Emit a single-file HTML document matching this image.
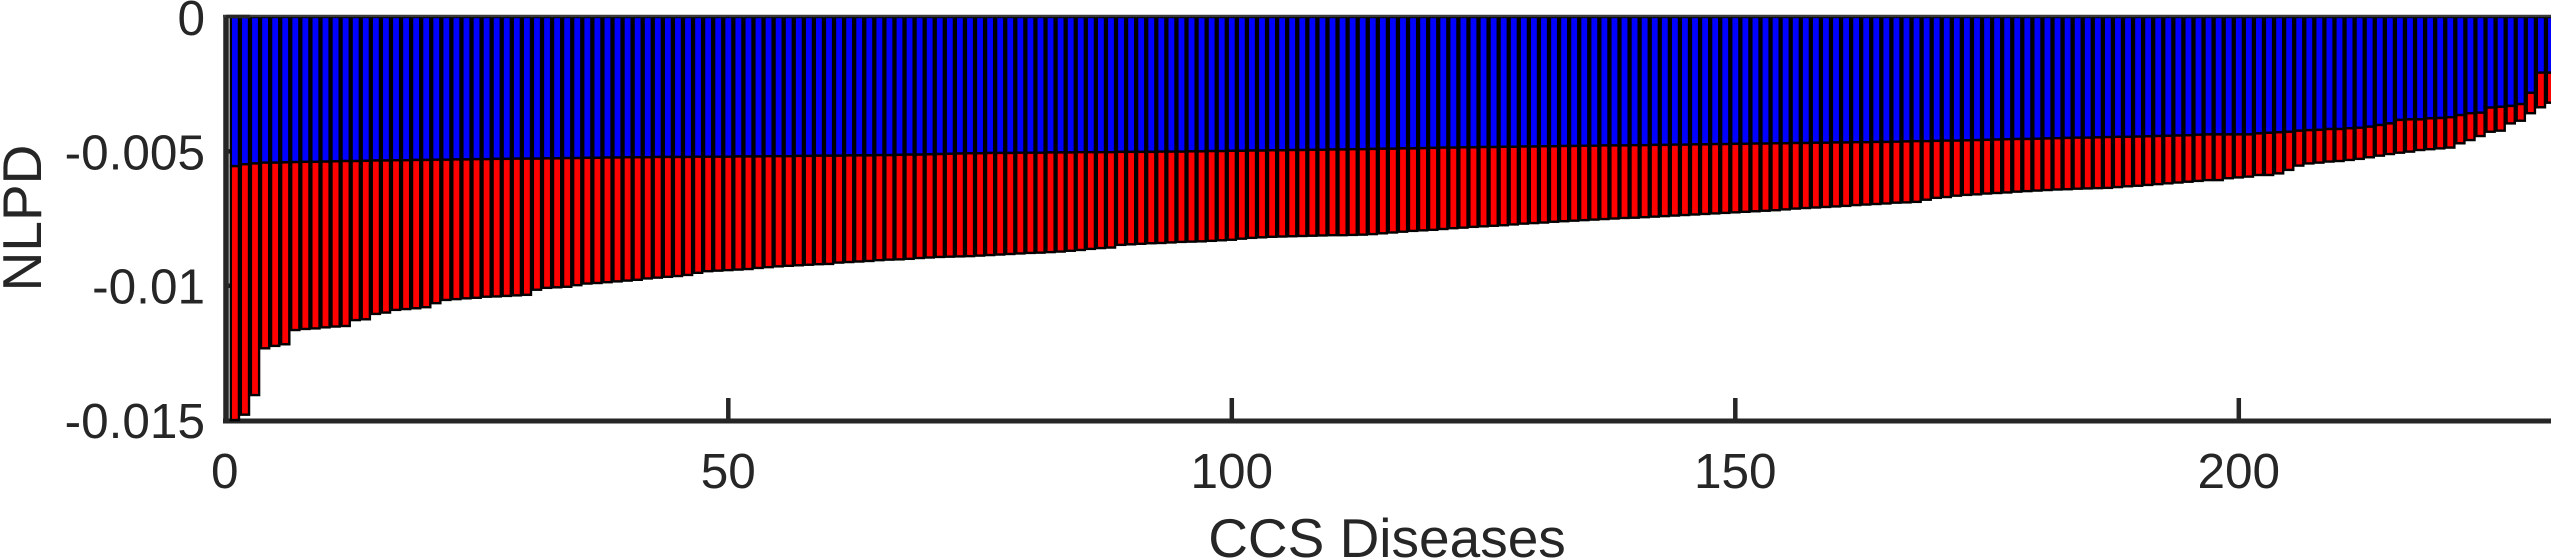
<!DOCTYPE html>
<html lang="en">
<head>
<meta charset="utf-8">
<title>NLPD by CCS Diseases</title>
<style>
html,body{margin:0;padding:0;background:#fff;width:2553px;height:559px;overflow:hidden}
svg{display:block}
text{font-family:"Liberation Sans",Arial,sans-serif;fill:#262626}
</style>
</head>
<body>
<svg id="chart" xmlns="http://www.w3.org/2000/svg" width="2553" height="559" viewBox="0 0 2553 559">
<defs><clipPath id="plot-clip"><rect x="220" y="14" width="2331" height="410"/></clipPath></defs>
<g id="axes-under"></g>
<g id="bars" clip-path="url(#plot-clip)"></g>
<g id="axes-over"></g>
<g id="labels"></g>
<text x="1387" y="557" font-size="55" text-anchor="middle">CCS Diseases</text>
<text transform="translate(41,218) rotate(-90)" font-size="55" text-anchor="middle">NLPD</text>
</svg>
<script>
// Depth of each stack boundary below zero, in units of 0.001
const blueValues = [
5.55,5.48,5.45,5.42,5.42,5.41,5.4,5.39,5.39,5.38,
5.37,5.36,5.36,5.35,5.34,5.34,5.33,5.33,5.32,5.32,
5.31,5.31,5.3,5.3,5.29,5.29,5.28,5.28,5.27,5.27,
5.27,5.26,5.26,5.25,5.25,5.24,5.24,5.23,5.23,5.22,
5.22,5.22,5.21,5.21,5.21,5.21,5.2,5.2,5.2,5.2,
5.19,5.19,5.19,5.18,5.18,5.18,5.17,5.17,5.16,5.16,
5.16,5.15,5.15,5.15,5.14,5.14,5.13,5.12,5.12,5.11,
5.1,5.09,5.08,5.07,5.07,5.06,5.06,5.06,5.05,5.05,
5.05,5.04,5.04,5.04,5.03,5.03,5.03,5.03,5.02,5.02,
5.02,5.02,5.01,5.01,5.01,5.0,5.0,4.99,4.99,4.98,
4.98,4.97,4.97,4.96,4.96,4.95,4.95,4.94,4.94,4.93,
4.93,4.92,4.92,4.91,4.9,4.9,4.89,4.89,4.88,4.87,
4.86,4.86,4.85,4.85,4.84,4.84,4.83,4.83,4.82,4.82,
4.81,4.81,4.8,4.8,4.79,4.79,4.78,4.78,4.78,4.77,
4.77,4.76,4.76,4.75,4.75,4.74,4.74,4.73,4.73,4.72,
4.72,4.71,4.71,4.7,4.7,4.69,4.69,4.68,4.68,4.67,
4.67,4.66,4.66,4.65,4.65,4.64,4.63,4.62,4.62,4.61,
4.6,4.6,4.59,4.58,4.57,4.56,4.55,4.54,4.54,4.53,
4.52,4.51,4.5,4.49,4.49,4.48,4.47,4.46,4.46,4.45,
4.44,4.43,4.42,4.41,4.4,4.38,
4.37,4.37,4.37,4.37,4.37,4.33,4.31,4.29,4.27,4.23,
4.21,4.2,4.17,4.17,4.14,4.12,4.08,4.02,3.96,
3.83,3.81,3.81,3.77,3.76,3.73,3.65,3.58,3.56,
3.37,3.34,3.31,3.24,2.82,2.07,2.07
];
const stackTotals = [
15.0,14.8,14.07,12.33,12.24,12.18,11.65,11.61,11.59,11.55,
11.52,11.5,11.28,11.25,11.05,11.0,10.9,10.87,10.84,10.8,
10.65,10.53,10.5,10.47,10.45,10.41,10.4,10.38,10.36,10.34,
10.15,10.08,10.06,10.04,9.98,9.92,9.9,9.87,9.84,9.81,
9.78,9.73,9.7,9.67,9.64,9.6,9.52,9.46,9.44,9.42,
9.4,9.38,9.34,9.31,9.28,9.26,9.24,9.22,9.2,9.19,
9.14,9.12,9.1,9.08,9.05,9.03,9.02,9.0,8.97,8.95,
8.93,8.92,8.91,8.9,8.88,8.86,8.84,8.82,8.8,8.78,
8.77,8.75,8.73,8.7,8.67,8.63,8.6,8.58,8.48,8.46,
8.44,8.42,8.41,8.39,8.37,8.36,8.35,8.33,8.31,8.29,
8.25,8.22,8.2,8.18,8.17,8.16,8.15,8.14,8.13,8.12,
8.12,8.11,8.1,8.08,8.05,8.02,7.99,7.96,7.94,7.92,
7.89,7.86,7.84,7.81,7.79,7.77,7.75,7.72,7.69,7.67,
7.65,7.62,7.6,7.58,7.56,7.54,7.52,7.5,7.48,7.47,
7.45,7.43,7.41,7.39,7.37,7.35,7.33,7.31,7.29,7.27,
7.25,7.23,7.21,7.19,7.16,7.13,7.11,7.09,7.07,7.05,
7.03,7.0,6.98,6.96,6.94,6.91,6.9,6.88,6.8,6.73,
6.7,6.65,6.62,6.6,6.57,6.55,6.53,6.5,6.48,6.46,
6.44,6.42,6.41,6.39,6.38,6.37,6.36,6.33,6.3,6.28,
6.25,6.22,6.19,6.16,6.13,6.1,
6.07,6.07,6.0,5.97,5.94,5.88,5.88,5.82,5.69,5.53,
5.45,5.42,5.38,5.36,5.32,5.28,5.22,5.16,5.1,5.05,
5.01,4.95,4.92,4.89,4.86,4.7,4.58,4.43,4.27,4.23,
3.96,3.86,3.58,3.36,3.19
];
const xTicks = [0, 50, 100, 150, 200];
const yTicks = [0, 5, 10, 15];
const yTickLabels = ['0', '-0.005', '-0.01', '-0.015'];

const SVG_NS = 'http://www.w3.org/2000/svg';
const INK = '#262626';
function xScale(v) { return 224.8 + v * 10.07; }
function yScale(v) { return 17 + v * 26.87; }
function make(tag, attrs, parent) {
  const el = document.createElementNS(SVG_NS, tag);
  for (const k in attrs) el.setAttribute(k, attrs[k]);
  parent.appendChild(el);
  return el;
}
const under = document.getElementById('axes-under');
const over = document.getElementById('axes-over');
const barsG = document.getElementById('bars');
const labels = document.getElementById('labels');

const leftSpine = make('line', {x1: 226, x2: 226, y1: 15, y2: 423.5, stroke: INK, 'stroke-width': 5.5}, under);


const bottomSpine = make('line', {x1: 223, x2: 2551, y1: 421, y2: 421, stroke: INK, 'stroke-width': 5}, under);



xTicks.forEach(function (t) {
  const x = xScale(t);
  if (t > 0) {
    const tick = make('line', {x1: x, x2: x, y1: 398, y2: 421, stroke: INK, 'stroke-width': 4.5}, under);
    
    
  }
  const label = make('text', {x: x, y: 488, 'font-size': 49.5, 'text-anchor': 'middle'}, labels);
  label.textContent = String(t);
  
  
});
yTicks.forEach(function (t, i) {
  const y = yScale(t);
  if (i > 0 && i < yTicks.length - 1) {
    const tick = make('line', {x1: 226, x2: 249, y1: y, y2: y, stroke: INK, 'stroke-width': 4.5}, under);
    
    
  }
  const label = make('text', {x: 205, y: y + 18, 'font-size': 49.5, 'text-anchor': 'end'}, labels);
  label.textContent = yTickLabels[i];
  
  
});

const barWidth = 8.2;
const barStroke = 2.4;
blueValues.forEach(function (b, i) {
  const cx = xScale(i + 1);
  const yBlue = yScale(b);
  const yTotal = yScale(stackTotals[i]);
  const blue = make('rect', {x: cx - barWidth / 2, y: yScale(0), width: barWidth, height: yBlue - yScale(0), fill: '#0000ff', stroke: '#000', 'stroke-width': barStroke}, barsG);
  
  
  const red = make('rect', {x: cx - barWidth / 2, y: yBlue, width: barWidth, height: yTotal - yBlue, fill: '#ff0000', stroke: '#000', 'stroke-width': barStroke}, barsG);
  
  
});

const topSpine = make('line', {x1: 223, x2: 2551, y1: 16, y2: 16, stroke: '#3a3a3a', 'stroke-width': 2.5}, over);


const zeroTick = make('line', {x1: 226, x2: 250, y1: 16.5, y2: 16.5, stroke: INK, 'stroke-width': 3.5}, over);


</script>
</body>
</html>
